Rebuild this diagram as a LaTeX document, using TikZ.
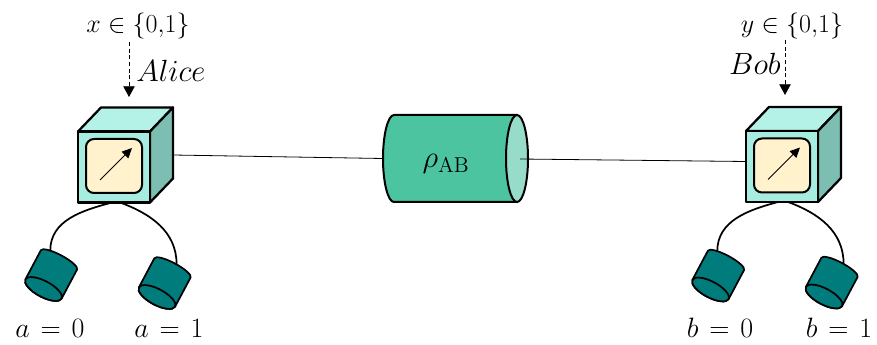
\RequirePackage{fix-cm}
\documentclass[tikz,border=0pt]{standalone}
\usetikzlibrary{arrows.meta}

\definecolor{cubefront}{RGB}{166,236,224}
\definecolor{cubetop}{RGB}{180,241,230}
\definecolor{cubeside}{RGB}{125,190,178}
\definecolor{screenfill}{RGB}{255,242,204}
\definecolor{chanbody}{RGB}{76,196,160}
\definecolor{chancap}{RGB}{150,220,200}
\definecolor{detfill}{RGB}{0,124,124}

\newcommand{\eqsp}{\mskip 2mu}

\tikzset{
  edge/.style={line width=1.7pt, line join=round, draw=black},
  lbl/.style={font=\fontsize{19.5}{22}\selectfont, inner sep=0pt},
  partyname/.style={font=\fontsize{23}{26}\selectfont, inner sep=0pt},
  outcome/.style={font=\fontsize{21}{24}\selectfont, inner sep=0pt},
  setting/.style={densely dashed, line width=0.6pt, -{Triangle[length=8pt,width=8.5pt]}},
  cable/.style={line width=1.3pt},
  % measuring device: cube with a dial on its front face
  device/.pic={
    \path[edge, fill=cubetop]  (-36,35.5) -- (-13,59.5) -- (59,59.5) -- (36,35.5) -- cycle;
    \path[edge, fill=cubeside] (36,35.5) -- (59,59.5) -- (59,-11.5) -- (36,-35.5) -- cycle;
    \node[edge, fill=cubefront, minimum width=54pt, minimum height=53.25pt,
          inner sep=0pt, outer sep=0pt] (-front) at (0,0) {};
    \draw[line width=1.5pt, fill=screenfill, rounded corners=6pt] (-28,28) rectangle (28,-26);
    \draw[line width=0.7pt, -{Triangle[length=7.5pt,width=7pt]}] (-14,-13) -- (18,19);
    \coordinate (-eport) at (59,12);
    \coordinate (-wport) at (-36,5);
  },
  % detector: short cylinder, open end facing the viewer
  detector/.pic={
    \draw[line width=1.3pt, fill=detfill]
      (-20.5,33) -- (-20.5,0) arc[start angle=180, end angle=360, x radius=20.5, y radius=8]
      -- (20.5,33) arc[start angle=0, end angle=180, x radius=20.5, y radius=5] -- cycle;
    \draw[line width=1.3pt, fill=detfill] (0,0) ellipse[x radius=20.5, y radius=8];
    \coordinate (-tl) at (-12,37);
    \coordinate (-tc) at (2,38);
  }
}

\begin{document}
\begin{tikzpicture}[x=0.75pt, y=0.75pt]
  \useasboundingbox (0,0) rectangle (877,-345);

  % shared state
  \node[minimum width=108.75pt, minimum height=65.25pt, inner sep=0pt] (chan) at (455.5,-158.5) {};
  \coordinate (capport) at (520,-159);

  % Alice
  \coordinate (alport) at (173,-155);
  \draw[line width=0.6pt] (alport) -- (chan.west);
  \pic (alice) at (114,-167) {device};
  \pic (a0) [rotate=-28] at (43.5,-289) {detector};
  \pic (a1) [rotate=-28] at (157,-297) {detector};
  \draw[cable] ([xshift=-1.5pt]alice-front.south) to[out=195, in=90] (a0-tl);
  \draw[cable] ([xshift=4.5pt]alice-front.south) to[out=-20, in=90] (a1-tc);

  \node[lbl, anchor=base] (xin) at (138,-33) {$x\in\{0{,}1\}$};
  \node[partyname, anchor=base west] (alicename) at (136,-82) {$Alice$};
  \coordinate (xtop) at (129,-42);
  \coordinate (xtip) at (129,-97);
  \draw[setting] (xtop) -- (xtip);

  \node[outcome, anchor=base] (a0lab) at (50,-337) {$a\eqsp=\eqsp0$};
  \node[outcome, anchor=base] (a1lab) at (169,-337) {$a\eqsp=\eqsp1$};

  % channel cylinder
  \draw[line width=1.5pt, fill=chanbody]
    (517,-115) -- (394,-115) arc[start angle=90, end angle=270, x radius=11, y radius=43.5]
    -- (517,-202) -- cycle;
  \draw[line width=1.5pt, fill=chancap] (517,-158.5) ellipse[x radius=11, y radius=43.5];
  \node[font=\fontsize{23}{26}\selectfont, inner sep=0pt] (rho) at (446,-164) {$\rho_{\mathrm{AB}}$};

  % Bob
  \pic (bob) at (782,-166.5) {device};
  \draw[line width=0.6pt] (capport) -- (bob-wport);
  \pic (b0) [rotate=-28] at (710.5,-289.5) {detector};
  \pic (b1) [rotate=-28] at (824,-296.5) {detector};
  \draw[cable] ([xshift=-3pt]bob-front.south) to[out=195, in=90] (b0-tl);
  \draw[cable] ([xshift=4.5pt]bob-front.south) to[out=-20, in=90] (b1-tc);

  \node[lbl, anchor=base] (yin) at (792,-33) {$y\in\{0{,}1\}$};
  \node[partyname, anchor=base east] (bobname) at (781,-75) {$Bob$};
  \coordinate (ytop) at (785,-40);
  \coordinate (ytip) at (785,-95);
  \draw[setting] (ytop) -- (ytip);

  \node[outcome, anchor=base] (b0lab) at (720,-337) {$b\eqsp=\eqsp0$};
  \node[outcome, anchor=base] (b1lab) at (839,-337) {$b\eqsp=\eqsp1$};
\end{tikzpicture}
\end{document}
